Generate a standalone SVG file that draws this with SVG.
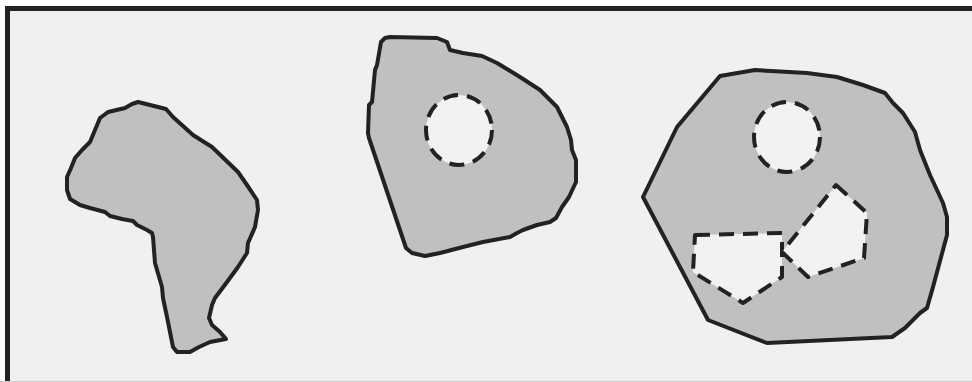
<svg xmlns="http://www.w3.org/2000/svg" width="972" height="382" viewBox="0 0 972 382">
<style>
.region{fill:#c0c0c0;stroke:#222;stroke-width:4;stroke-linejoin:round}
.hole{fill:#f2f2f2;stroke:#222;stroke-width:4;stroke-dasharray:15 9;stroke-linejoin:round}
</style>
<rect x="0" y="0" width="972" height="382" fill="#ffffff"/>
<rect x="8" y="9" width="964" height="372" fill="#f0f0f0"/>
<line x1="0" y1="381.5" x2="972" y2="381.5" stroke="#cccccc" stroke-width="1"/>
<line x1="5" y1="8.5" x2="972" y2="8.5" stroke="#222" stroke-width="5"/>
<line x1="7.5" y1="6" x2="7.5" y2="381" stroke="#222" stroke-width="5"/>
<g id="shape1">
<path class="region" d="M138,102 L166,109 L173,117 L193,135 L212,147 L238,172 L247,185 L257,200 L258,210 L255,227 L248,243 L247,253 L238,267 L227,282 L215,298 L212,305 L209,318 L212,325 L220,332 L226,339 L210,342 L199,347 L190,352 L177,352 L173,347 L167,317 L163,298 L162,287 L155,263 L153,237 L152,233 L147,230 L137,225 L133,221 L122,219 L110,216 L105,212 L90,208 L80,205 L70,199 L67,190 L67,177 L71,168 L75,158 L82,150 L90,142 L95,130 L100,118 L108,112 L125,108 L132,104 Z"/>
</g>
<g id="shape2">
<path class="region" d="M390,37 L437,38 L447,42 L450,50 L463,53 L482,56 L497,63 L520,77 L540,90 L557,107 L567,127 L571,140 L572,150 L576,160 L576,182 L569,197 L562,207 L556,218 L550,222 L537,225 L523,230 L517,233 L510,237 L483,242 L463,247 L440,253 L425,256 L412,253 L406,248 L369,138 L368,133 L369,105 L372,102 L375,70 L377,65 L381,42 L385,38 Z"/>
<ellipse class="hole" cx="459" cy="130" rx="33" ry="35"/>
</g>
<g id="shape3">
<path class="region" d="M720,76 L755,70 L807,73 L837,77 L863,85 L885,93 L893,103 L903,113 L915,132 L920,150 L930,175 L943,203 L947,217 L947,235 L933,287 L927,308 L920,313 L905,328 L892,337 L767,343 L708,320 L643,197 L677,127 Z"/>
<ellipse class="hole" cx="787" cy="137" rx="33" ry="35"/>
<path class="hole" d="M695,235 L782,233 L782,277 L743,303 L693,272 Z"/>
<path class="hole" d="M836,185 L867,213 L864,258 L808,277 L782,252 Z"/>
</g>
</svg>
